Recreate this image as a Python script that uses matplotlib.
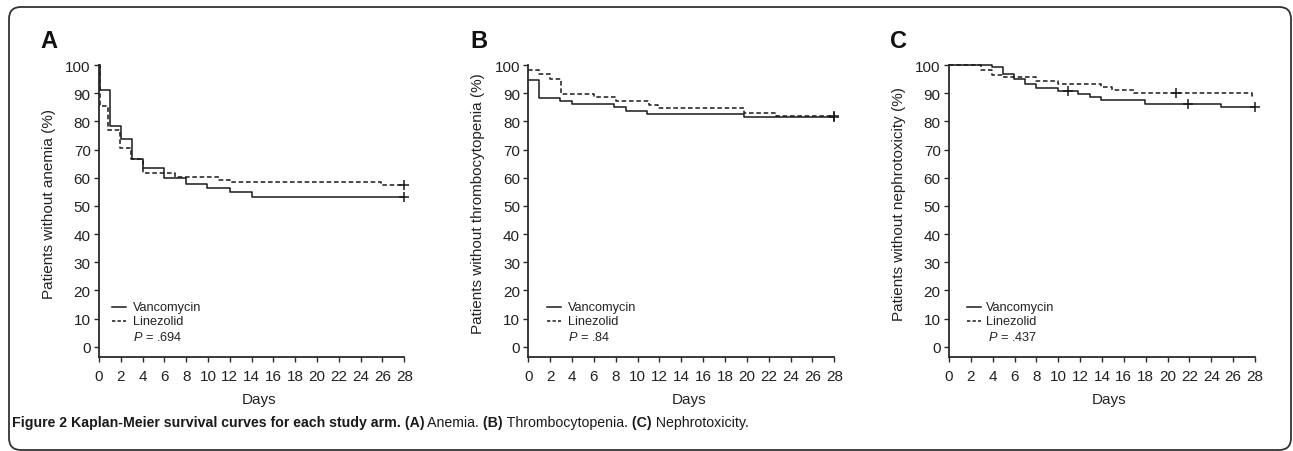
import matplotlib
matplotlib.use("Agg")
import matplotlib.pyplot as plt
from matplotlib.patches import FancyBboxPatch
from matplotlib.transforms import IdentityTransform

plt.rcParams['font.family'] = ['Liberation Sans', 'DejaVu Sans']
plt.rcParams['mathtext.fontset'] = 'custom'
plt.rcParams['mathtext.it'] = 'Liberation Sans:italic'
plt.rcParams['mathtext.rm'] = 'Liberation Sans'

# ---------------- data ----------------
day_ticks = list(range(0, 29, 2))
pct_ticks = list(range(0, 101, 10))
series_names = ["Vancomycin", "Linezolid"]

# Panel A: anemia
a_vanc_t = [0, 0.1, 1.0, 2.0, 3.0, 4.05, 6.0, 7.95, 9.95, 12.0, 14.05, 28]
a_vanc_s = [100, 91.0, 78.4, 73.8, 66.8, 63.6, 59.8, 57.6, 56.4, 55.0, 53.0, 53.0]
a_line_t = [0, 0.05, 0.85, 1.95, 2.9, 4.05, 7.0, 11.0, 12.0, 25.9, 28]
a_line_s = [100, 85.3, 77.0, 70.5, 66.8, 61.6, 60.1, 59.3, 58.6, 57.3, 57.3]
a_vanc_cens_t = [28]
a_vanc_cens_s = [53.0]
a_line_cens_t = [28]
a_line_cens_s = [57.3]
a_p = ".694"
a_ylabel = "Patients without anemia (%)"

# Panel B: thrombocytopenia
b_vanc_t = [0, 0.98, 2.9, 3.97, 7.85, 8.9, 10.9, 19.7, 28]
b_vanc_s = [94.7, 88.3, 87.3, 86.1, 85.0, 83.7, 82.6, 81.5, 81.5]
b_line_t = [0, 1.0, 2.0, 3.0, 6.0, 8.0, 11.0, 11.9, 19.7, 22.7, 28]
b_line_s = [98.3, 96.8, 95.0, 89.7, 88.8, 87.2, 85.9, 84.7, 82.9, 81.8, 81.8]
b_vanc_cens_t = [28]
b_vanc_cens_s = [81.5]
b_line_cens_t = [28]
b_line_cens_s = [81.8]
b_p = ".84"
b_ylabel = "Patients without thrombocytopenia (%)"

# Panel C: nephrotoxicity
c_vanc_t = [0, 3.9, 4.97, 5.97, 6.95, 7.93, 9.94, 11.8, 12.9, 13.9, 17.9, 24.86, 28]
c_vanc_s = [100, 99.3, 96.9, 95.0, 93.3, 92.0, 90.9, 89.8, 88.6, 87.4, 86.2, 85.0, 85.0]
c_line_t = [0, 2.93, 3.9, 4.87, 7.93, 10.0, 13.9, 14.9, 16.9, 27.75, 28]
c_line_s = [100, 98.3, 96.5, 95.7, 94.2, 93.1, 92.2, 91.2, 90.2, 88.9, 88.9]
c_vanc_cens_t = [10.9, 21.9, 28]
c_vanc_cens_s = [90.9, 86.2, 85.0]
c_line_cens_t = [20.8]
c_line_cens_s = [90.2]
c_p = ".437"
c_ylabel = "Patients without nephrotoxicity (%)"

panel_letters = ["A", "B", "C"]

caption_parts = [
    ("Figure 2 Kaplan-Meier survival curves for each study arm.", "bold"),
    (" (A)", "bold"), (" Anemia.", "normal"),
    (" (B)", "bold"), (" Thrombocytopenia.", "normal"),
    (" (C)", "bold"), (" Nephrotoxicity.", "normal"),
]

# ---------------- figure ----------------
W, H = 1293, 452
fig = plt.figure(figsize=(W / 100, H / 100), dpi=100)

ink = "#1a1a1a"
axc = "#2a2a2a"
txtc = "#222222"

panels = [
    dict(rect=[99, 404.3], letter_x=40, vt=a_vanc_t, vs=a_vanc_s, lt=a_line_t, ls=a_line_s,
         vct=a_vanc_cens_t, vcs=a_vanc_cens_s, lct=a_line_cens_t, lcs=a_line_cens_s,
         p=a_p, ylabel=a_ylabel, leg=(112, 126, 133, 133)),
    dict(rect=[528.3, 834.3], letter_x=470, vt=b_vanc_t, vs=b_vanc_s, lt=b_line_t, ls=b_line_s,
         vct=b_vanc_cens_t, vcs=b_vanc_cens_s, lct=b_line_cens_t, lcs=b_line_cens_s,
         p=b_p, ylabel=b_ylabel, leg=(546.7, 560.7, 568.3, 568.3)),
    dict(rect=[949, 1255], letter_x=890, vt=c_vanc_t, vs=c_vanc_s, lt=c_line_t, ls=c_line_s,
         vct=c_vanc_cens_t, vcs=c_vanc_cens_s, lct=c_line_cens_t, lcs=c_line_cens_s,
         p=c_p, ylabel=c_ylabel, leg=(966.7, 980.7, 985.7, 988.3)),
]

top_px, bot_px = 66.0, 357.7
for letter, pd in zip(panel_letters, panels):
    x0, x1 = pd["rect"]
    ax = fig.add_axes([x0 / W, 1 - bot_px / H, (x1 - x0) / W, (bot_px - top_px) / H])
    ax.set_xlim(0, 28)
    ax.set_ylim(-3.55, 100)
    for s in ["top", "right"]:
        ax.spines[s].set_visible(False)
    for s in ["left", "bottom"]:
        ax.spines[s].set_linewidth(1.3)
        ax.spines[s].set_color(axc)
    ax.set_xticks(day_ticks)
    ax.set_yticks(pct_ticks)
    ax.tick_params(axis="both", direction="out", length=3.5, width=1.0, color=axc,
                   labelsize=11, labelcolor=txtc)
    ax.tick_params(axis="x", pad=5.5)
    ax.tick_params(axis="y", pad=2.5)
    ax.patch.set_visible(False)

    ax.step(pd["vt"], pd["vs"], where="post", color=ink, lw=1.1, clip_on=False)
    ax.step(pd["lt"], pd["ls"], where="post", color=ink, lw=1.1,
            linestyle=(0, (3.0, 1.8)), clip_on=False)
    ax.plot(pd["vct"], pd["vcs"], linestyle="none", marker="+", ms=6.5, mew=1.1,
            color=ink, clip_on=False)
    ax.plot(pd["lct"], pd["lcs"], linestyle="none", marker="+", ms=6.5, mew=1.1,
            color=ink, clip_on=False)

    ax.set_ylabel(pd["ylabel"], fontsize=11, color=txtc)
    ax.yaxis.set_label_coords(-0.142, 0.528)
    ax.set_xlabel("Days", fontsize=11, color=txtc)
    ax.xaxis.set_label_coords(0.524, -0.12)

    # legend drawn by hand
    lx0, lx1, tx, px = pd["leg"]
    wpx = x1 - x0
    hpx = bot_px - top_px

    def ax_x(v):
        return (v - x0) / wpx

    def ax_y(v):
        return (bot_px - v) / hpx

    ax.plot([ax_x(lx0), ax_x(lx1)], [ax_y(307.7)] * 2, transform=ax.transAxes,
            color=ink, lw=1.1, clip_on=False)
    ax.plot([ax_x(lx0), ax_x(lx1)], [ax_y(322.3)] * 2, transform=ax.transAxes,
            color=ink, lw=1.1, linestyle=(0, (2.2, 1.4)), clip_on=False)
    ax.text(ax_x(tx), ax_y(307.7), series_names[0], transform=ax.transAxes,
            fontsize=9.2, va="center", ha="left", color=txtc)
    ax.text(ax_x(tx), ax_y(322.3), series_names[1], transform=ax.transAxes,
            fontsize=9.2, va="center", ha="left", color=txtc)
    ax.text(ax_x(px), ax_y(337.3), r"$P$ = " + pd["p"], transform=ax.transAxes,
            fontsize=9.2, va="center", ha="left", color=txtc)

    fig.text(pd["letter_x"] / W, 1 - 48.5 / H, letter, fontsize=17, fontweight="bold",
             va="baseline", ha="left", color="#111111")

# caption with mixed weights
prev = None
for txt, wt in caption_parts:
    kw = dict(fontsize=10.2, fontweight=wt, color="#1a1a1a")
    if prev is None:
        prev = fig.text(12 / W, 1 - 430 / H, txt, va="bottom", ha="left", **kw)
    else:
        prev = plt.annotate(txt, xy=(1, 0), xycoords=prev, va="bottom", ha="left",
                            annotation_clip=False, **kw)

# rounded frame around the figure
frame = FancyBboxPatch((9, 1), 1282, 443, boxstyle="round,pad=0,rounding_size=12",
                       transform=IdentityTransform(), fill=False, lw=1.3, ec="#333333")
fig.add_artist(frame)

fig.savefig("out.png", dpi=100)
